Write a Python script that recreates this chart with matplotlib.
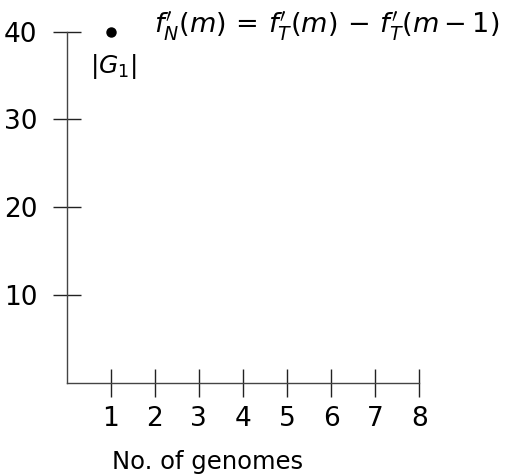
import matplotlib

matplotlib.use("Agg")
import matplotlib.pyplot as plt

# number of genomes vs. new genes; only the first point is drawn
genomes = [1]
new_genes = [40]
x_ticks = [1, 2, 3, 4, 5, 6, 7, 8]
y_ticks = [10, 20, 30, 40]
point_label = r"$|G_1|$"
formula = r"$f^{\prime}_{N}(m)\,=\,f^{\prime}_{T}(m)\,-\,f^{\prime}_{T}(m-1)$"

plt.rcParams.update(
    {
        "font.family": "DejaVu Sans",
        "mathtext.fontset": "dejavusans",
        "font.size": 17,
    }
)

fig = plt.figure(figsize=(5.05, 4.76), dpi=100)
ax = fig.add_axes([0.1319, 0.1964, 0.6984, 0.737])

ax.plot(genomes, new_genes, "o", color="black", markersize=6.5, clip_on=False)

ax.set_xlim(0, 8)
ax.set_ylim(0, 40)
ax.set_xticks(x_ticks)
ax.set_yticks(y_ticks)
for side in ("top", "right"):
    ax.spines[side].set_visible(False)
for side in ("left", "bottom"):
    ax.spines[side].set_color("#444444")
    ax.spines[side].set_linewidth(1.0)
ax.tick_params(axis="both", direction="inout", length=20, width=1.0, color="#222222", labelsize=19)
ax.tick_params(axis="y", pad=11)
ax.tick_params(axis="x", pad=7)

ax.set_xlabel("No. of genomes", fontsize=17.5)
ax.xaxis.set_label_coords(0.3995, -0.226)
ax.xaxis.label.set_va("center")

ax.annotate(point_label, (genomes[0], new_genes[0]), xytext=(2, -25),
            textcoords="offset points", ha="center", va="center", fontsize=18)
ax.annotate(formula, (genomes[0], new_genes[0]), xytext=(31, 4),
            textcoords="offset points", ha="left", va="center", fontsize=19.5,
            annotation_clip=False)

fig.savefig("out.png", dpi=100)
